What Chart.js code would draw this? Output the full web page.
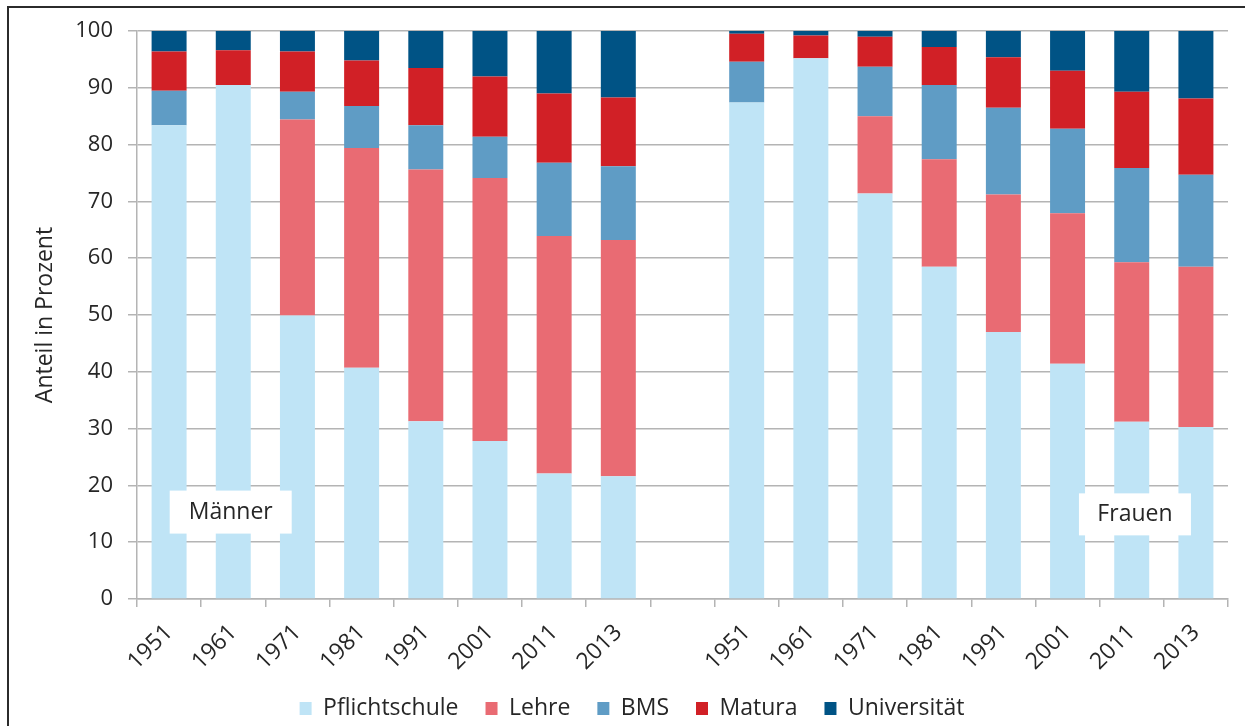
<!DOCTYPE html>
<html>
<head>
<meta charset="utf-8">
<script src="https://cdn.jsdelivr.net/npm/chart.js@4/dist/chart.umd.min.js"></script>
<style>
  html, body { margin: 0; padding: 0; background: #fff; overflow: hidden; }
  #wrap { position: relative; width: 1245px; height: 730px; }
  #frame { position: absolute; left: 7px; top: 6px; width: 1400px; height: 900px; border: 2px solid #2b2b2b; pointer-events: none; }
</style>
</head>
<body>
<div id="wrap">
  <canvas id="bildungChart" width="1245" height="730"></canvas>
  <div id="frame"></div>
</div>
<script>
// Werte in Prozent (links Männer, rechts Frauen)
const categories = ['1951', '1961', '1971', '1981', '1991', '2001', '2011', '2013', '',
  '1951', '1961', '1971', '1981', '1991', '2001', '2011', '2013'];

const pflichtschule = [83.4, 90.5, 49.9, 40.7, 31.3, 27.8, 22.1, 21.6, null, 87.4, 95.2, 71.4, 58.5, 47.0, 41.4, 31.2, 30.3];
const lehre = [0, 0, 34.5, 38.7, 44.3, 46.3, 41.8, 41.6, null, 0, 0, 13.6, 18.9, 24.2, 26.5, 28.1, 28.2];
const bms = [6.1, 0, 4.9, 7.4, 7.8, 7.3, 12.9, 13.0, null, 7.2, 0, 8.7, 13.1, 15.3, 14.9, 16.6, 16.2];
const matura = [6.9, 6.1, 7.1, 8.0, 10.1, 10.6, 12.2, 12.1, null, 4.9, 4.0, 5.3, 6.7, 8.9, 10.2, 13.4, 13.4];
const universitaet = [3.6, 3.4, 3.6, 5.2, 6.5, 8.0, 11.0, 11.7, null, 0.5, 0.8, 1.0, 2.8, 4.6, 7.0, 10.7, 11.9];

const yTicks = [0, 10, 20, 30, 40, 50, 60, 70, 80, 90, 100];
const groupLabels = ['Männer', 'Frauen'];

(function () {
  const fontFamily = '"Open Sans", "DejaVu Sans", sans-serif';
  const gridColor = '#b4b4b4';
  const textColor = '#262626';

  // weisse Kästchen mit "Männer" / "Frauen"
  const groupBoxPlugin = {
    id: 'groupBoxes',
    afterLayout(chart) {
      // Legende sitzt im Original etwas weiter rechts
      chart.legend.left += 18;
      chart.legend.right += 18;
    },
    afterDatasetsDraw(chart) {
      const x = chart.scales.x;
      const y = chart.scales.y;
      const ctx = chart.ctx;
      const boxes = [
        { text: groupLabels[0], idx: 0.96, val: 15.3, w: 122, h: 43 },
        { text: groupLabels[1], idx: 15.05, val: 14.9, w: 112, h: 42 }
      ];
      ctx.save();
      boxes.forEach(function (b) {
        const cx = x.getPixelForValue(b.idx);
        const cy = y.getPixelForValue(b.val);
        ctx.fillStyle = '#ffffff';
        ctx.fillRect(cx - b.w / 2, cy - b.h / 2, b.w, b.h);
        ctx.fillStyle = textColor;
        ctx.font = '23px ' + fontFamily;
        ctx.textAlign = 'center';
        ctx.textBaseline = 'middle';
        ctx.fillText(b.text, cx, cy);
      });
      ctx.restore();
    }
  };

  function makeDataset(label, data, color) {
    return {
      label: label,
      data: data,
      backgroundColor: color,
      borderWidth: 0,
      categoryPercentage: 1,
      barPercentage: 0.545
    };
  }

  function buildChart() {
    new Chart('bildungChart', {
      type: 'bar',
      data: {
        labels: categories,
        datasets: [
          makeDataset('Pflichtschule', pflichtschule, '#bfe4f6'),
          makeDataset('Lehre', lehre, '#e96b73'),
          makeDataset('BMS', bms, '#5f9cc5'),
          makeDataset('Matura', matura, '#d12026'),
          makeDataset('Universität', universitaet, '#005385')
        ]
      },
      options: {
        responsive: false,
        animation: false,
        layout: { padding: { top: 31, right: 17, left: 0, bottom: 0 } },
        plugins: {
          tooltip: { enabled: false },
          legend: {
            position: 'bottom',
            labels: {
              boxWidth: 12,
              boxHeight: 13,
              padding: 27,
              color: textColor,
              font: { family: fontFamily, size: 23 }
            }
          }
        },
        scales: {
          x: {
            stacked: true,
            grid: { drawOnChartArea: false, color: gridColor, lineWidth: 1.5, tickLength: 8, offset: true },
            border: { color: gridColor, width: 1.5 },
            ticks: {
              minRotation: 45,
              maxRotation: 45,
              autoSkip: false,
              padding: 12,
              color: textColor,
              font: { family: fontFamily, size: 23 }
            },
            afterFit(scale) { scale.height = 71; }
          },
          y: {
            stacked: true,
            min: yTicks[0],
            max: yTicks[yTicks.length - 1],
            afterBuildTicks(scale) { scale.ticks = yTicks.map((v) => ({ value: v })); },
            grid: { color: gridColor, lineWidth: 1.5, tickLength: 9 },
            border: { color: gridColor, width: 1.5 },
            ticks: {
              padding: 15,
              color: textColor,
              font: { family: fontFamily, size: 22 }
            },
            title: {
              display: true,
              text: 'Anteil in Prozent',
              color: textColor,
              padding: { top: 32, bottom: 0 },
              font: { family: fontFamily, size: 23 }
            },
            afterFit(scale) { scale.width = 137; }
          }
        }
      },
      plugins: [groupBoxPlugin]
    });
  }

  buildChart();
})();
</script>
</body>
</html>
